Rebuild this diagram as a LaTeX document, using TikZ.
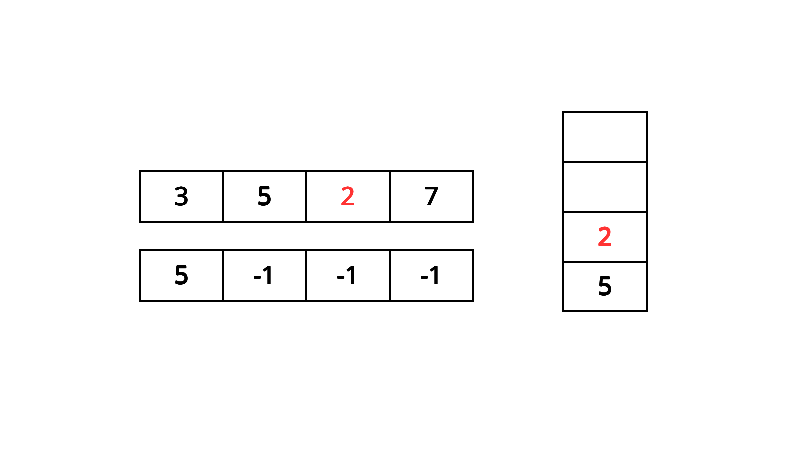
\documentclass[tikz,border=0pt]{standalone}
\usepackage{fontspec}
\setmainfont{Open Sans}
\usepackage{contour}
\contourlength{0.25pt}
\contournumber{16}
\definecolor{hl}{HTML}{FF3333}
\newcommand{\bk}[1]{\contour{black}{#1}}
\newcommand{\rd}[1]{\contour{hl}{\textcolor{hl}{#1}}}
\begin{document}
\begin{tikzpicture}[x=1pt,y=-1pt,
  cellbase/.style={draw=black,line width=1.5pt,inner sep=0pt,outer sep=0pt,font=\fontsize{25}{29}\selectfont,anchor=north west},
  cell/.style={cellbase,minimum width=83pt,minimum height=51pt},
  scell/.style={cellbase,minimum width=84pt,minimum height=50pt}]
\useasboundingbox (0,0) rectangle (810,456);
\node[cell] (a1) at (140,171) {\bk{3}};
\node[cell] (a2) at (223,171) {\bk{5}};
\node[cell,minimum width=84pt] (a3) at (306,171) {\rd{2}};
\node[cell] (a4) at (390,171) {\bk{7}};
\node[cell] (b1) at (140,250) {\bk{5}};
\node[cell] (b2) at (223,250) {\bk{-1}};
\node[cell,minimum width=84pt] (b3) at (306,250) {\bk{-1}};
\node[cell] (b4) at (390,250) {\bk{-1}};
\node[scell] (s1) at (563,112) {};
\node[scell] (s2) at (563,162) {};
\node[scell] (s3) at (563,212) {\rd{2}};
\node[scell,minimum height=49pt] (s4) at (563,262) {\bk{5}};
\end{tikzpicture}
\end{document}
